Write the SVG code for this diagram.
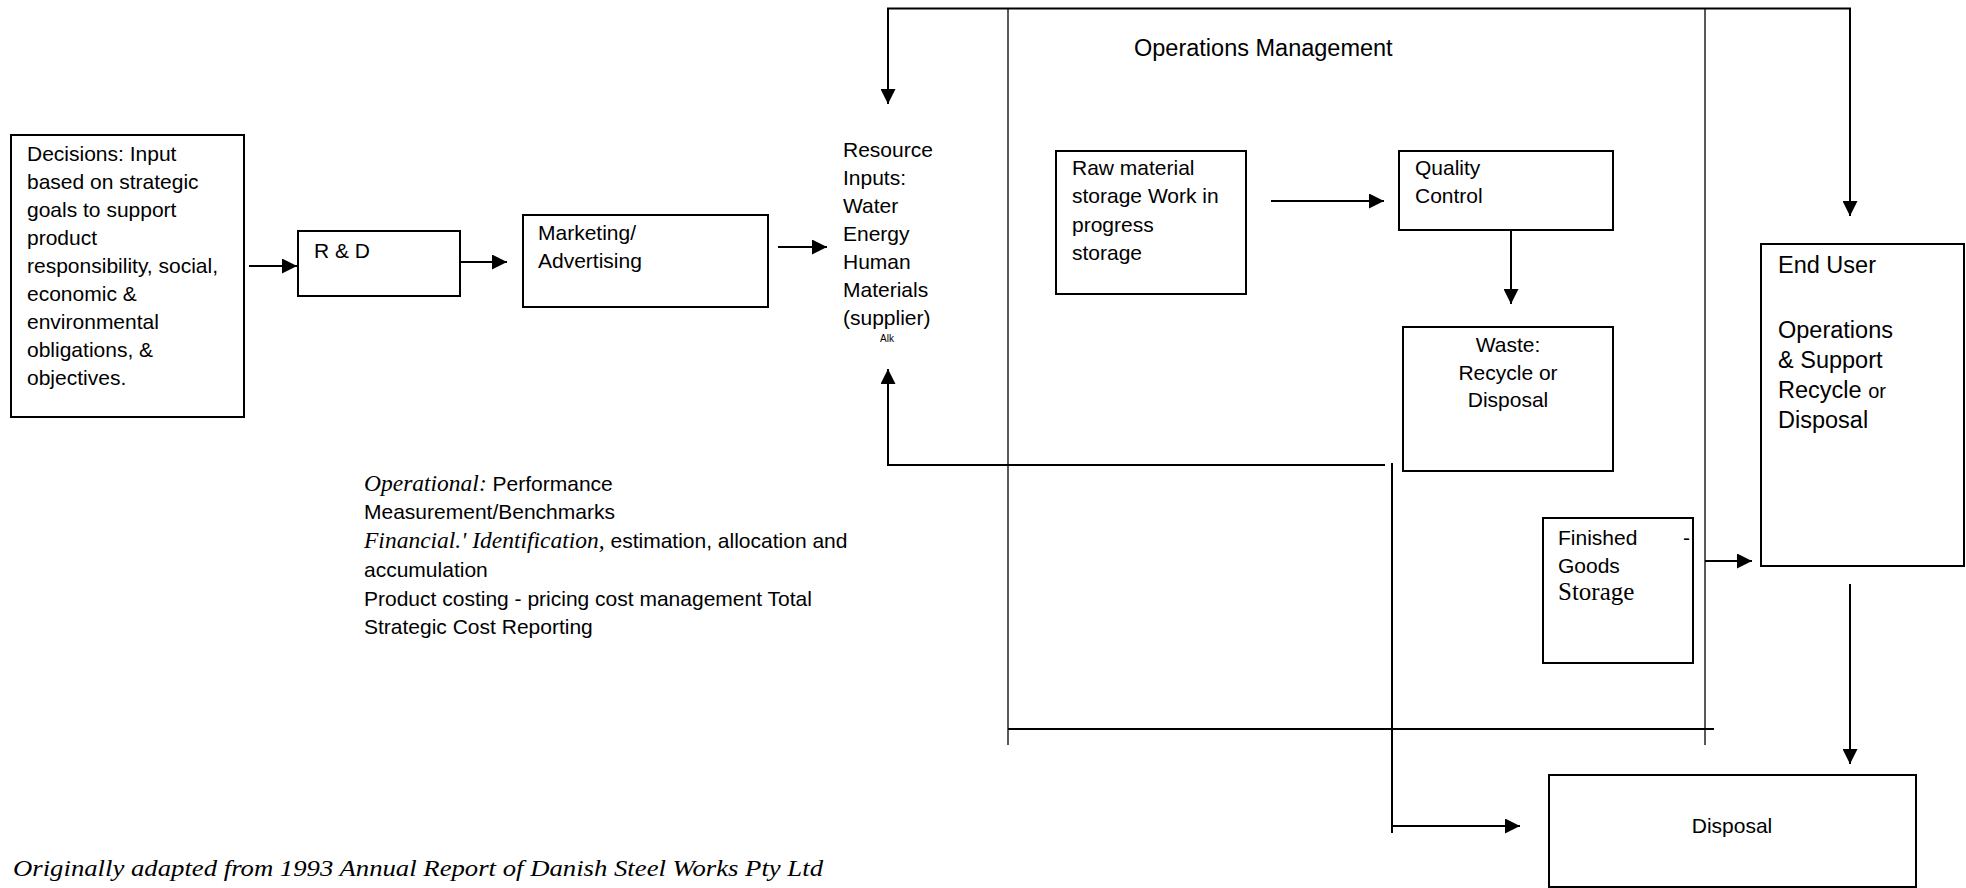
<svg xmlns="http://www.w3.org/2000/svg" width="1966" height="888" viewBox="0 0 1966 888">
<style>
.t{font-family:"Liberation Sans",Arial,sans-serif;font-size:21px;fill:#000}
.lg{font-size:23.5px}
.ti{font-family:"Liberation Serif","Times New Roman",serif;font-style:italic;font-size:23.5px}
.box{fill:#fff;stroke:#000;stroke-width:2}
.c{fill:none;stroke:#000;stroke-width:2}
.f{fill:none;stroke:#222;stroke-width:1.5}
</style>
<defs>
<marker id="ah" markerUnits="userSpaceOnUse" markerWidth="15" markerHeight="15" refX="15" refY="7.5" orient="auto-start-reverse">
<path d="M0,0 L15,7.5 L0,15 z" fill="#000"/>
</marker>
</defs>
<rect width="1966" height="888" fill="#fff"/>

<g id="frame">
<line class="f" x1="1008" y1="8" x2="1008" y2="745"/>
<line class="f" x1="1705" y1="8" x2="1705" y2="745"/>
<line class="c" x1="1008" y1="729" x2="1714" y2="729"/>
<text class="t lg" x="1134" y="56">Operations Management</text>
</g>

<g id="connectors">
<path class="c" d="M888,104 L888,8.5 L1850,8.5 L1850,216" marker-start="url(#ah)" marker-end="url(#ah)"/>
<line class="c" x1="249" y1="266" x2="297" y2="266" marker-end="url(#ah)"/>
<line class="c" x1="460" y1="262" x2="507" y2="262" marker-end="url(#ah)"/>
<line class="c" x1="778" y1="247" x2="827" y2="247" marker-end="url(#ah)"/>
<line class="c" x1="1271" y1="201" x2="1384" y2="201" marker-end="url(#ah)"/>
<line class="c" x1="1511" y1="224" x2="1511" y2="304" marker-end="url(#ah)"/>
<polyline class="c" points="1385,465 888,465 888,369" marker-end="url(#ah)"/>
<polyline class="c" points="1392,463 1392,833"/>
<line class="c" x1="1392" y1="826" x2="1520" y2="826" marker-end="url(#ah)"/>
<line class="c" x1="1705" y1="561" x2="1752" y2="561" marker-end="url(#ah)"/>
<line class="c" x1="1850" y1="584" x2="1850" y2="764" marker-end="url(#ah)"/>
</g>

<g id="decisions">
<rect class="box" x="11" y="135" width="233" height="282"/>
<text class="t" x="27" y="161">Decisions: Input</text>
<text class="t" x="27" y="189">based on strategic</text>
<text class="t" x="27" y="217">goals to support</text>
<text class="t" x="27" y="245">product</text>
<text class="t" x="27" y="273">responsibility, social,</text>
<text class="t" x="27" y="301">economic &amp;</text>
<text class="t" x="27" y="329">environmental</text>
<text class="t" x="27" y="357">obligations, &amp;</text>
<text class="t" x="27" y="385">objectives.</text>
</g>

<g id="rd">
<rect class="box" x="298" y="231" width="162" height="65"/>
<text class="t" x="314" y="258">R &amp; D</text>
</g>

<g id="marketing">
<rect class="box" x="523" y="215" width="245" height="92"/>
<text class="t" x="538" y="240">Marketing/</text>
<text class="t" x="538" y="268">Advertising</text>
</g>

<g id="resource">
<text class="t" x="843" y="157">Resource</text>
<text class="t" x="843" y="185">Inputs:</text>
<text class="t" x="843" y="213">Water</text>
<text class="t" x="843" y="241">Energy</text>
<text class="t" x="843" y="269">Human</text>
<text class="t" x="843" y="297">Materials</text>
<text class="t" x="843" y="325">(supplier)</text>
<text class="t" x="887" y="342" style="font-size:10px" text-anchor="middle">Alk</text>
</g>

<g id="raw">
<rect class="box" x="1056" y="151" width="190" height="143"/>
<text class="t" x="1072" y="175">Raw material</text>
<text class="t" x="1072" y="203">storage Work in</text>
<text class="t" x="1072" y="232">progress</text>
<text class="t" x="1072" y="260">storage</text>
</g>

<g id="quality">
<rect class="box" x="1399" y="151" width="214" height="79"/>
<text class="t" x="1415" y="175">Quality</text>
<text class="t" x="1415" y="203">Control</text>
</g>

<g id="waste">
<rect class="box" x="1403" y="327" width="210" height="144"/>
<text class="t" x="1508" y="352" text-anchor="middle">Waste:</text>
<text class="t" x="1508" y="380" text-anchor="middle">Recycle or</text>
<text class="t" x="1508" y="407" text-anchor="middle">Disposal</text>
</g>

<g id="finished">
<rect class="box" x="1543" y="518" width="150" height="145"/>
<text class="t" x="1558" y="545">Finished</text>
<text class="t" x="1683" y="545">-</text>
<text class="t" x="1558" y="573">Goods</text>
<text x="1558" y="600" style="font-family:'Liberation Serif','Times New Roman',serif;font-size:25px">Storage</text>
</g>

<g id="enduser">
<rect class="box" x="1761" y="244" width="203" height="322"/>
<text class="t lg" x="1778" y="273">End User</text>
<text class="t lg" x="1778" y="338">Operations</text>
<text class="t lg" x="1778" y="368">&amp; Support</text>
<text class="t lg" x="1778" y="398">Recycle <tspan style="font-size:20px">or</tspan></text>
<text class="t lg" x="1778" y="428">Disposal</text>
</g>

<g id="disposal">
<rect class="box" x="1549" y="775" width="367" height="112"/>
<text class="t" x="1732" y="833" text-anchor="middle">Disposal</text>
</g>

<g id="notes">
<text class="t" x="364" y="491"><tspan class="ti">Operational:</tspan> Performance</text>
<text class="t" x="364" y="519">Measurement/Benchmarks</text>
<text class="t" x="364" y="548"><tspan class="ti">Financial.' Identification,</tspan> estimation, allocation and</text>
<text class="t" x="364" y="577">accumulation</text>
<text class="t" x="364" y="606">Product costing - pricing cost management Total</text>
<text class="t" x="364" y="634">Strategic Cost Reporting</text>
</g>

<text class="ti" x="13" y="876" style="font-size:24px" textLength="810" lengthAdjust="spacingAndGlyphs">Originally adapted from 1993 Annual Report of Danish Steel Works Pty Ltd</text>
</svg>
